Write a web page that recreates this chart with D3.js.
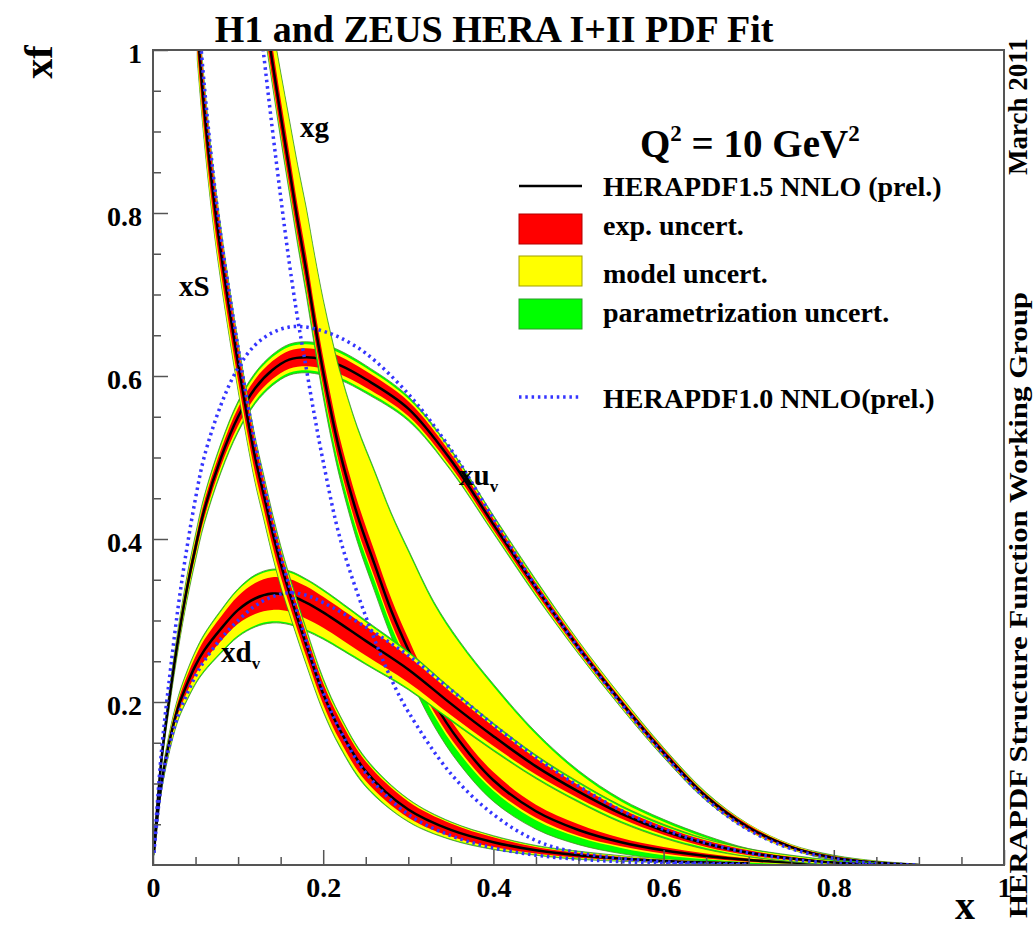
<!DOCTYPE html>
<html>
<head>
<meta charset="utf-8">
<script src="https://cdn.jsdelivr.net/npm/d3@7"></script>
<style>
body { margin: 0; background: #fff; }
text { font-family: "Liberation Serif", "Times New Roman", serif; font-weight: bold; fill: #000; }
</style>
</head>
<body>
<div id="chart"></div>
<script>
// ---- data (HERAPDF1.5 central + band offsets, HERAPDF1.0 dotted) ----
var xTicks = [0, 0.2, 0.4, 0.6, 0.8, 1];
var yTicks = [0.2, 0.4, 0.6, 0.8, 1];

// xu_v
var xuvX    = [0.001, 0.01, 0.02, 0.03, 0.04, 0.05, 0.06, 0.08, 0.1, 0.12, 0.14, 0.16, 0.18, 0.2, 0.22, 0.25, 0.3, 0.35, 0.4, 0.45, 0.5, 0.55, 0.6, 0.65, 0.7, 0.75, 0.8, 0.85, 0.9];
var xuv     = [0.015, 0.13, 0.21, 0.28, 0.34, 0.39, 0.435, 0.50, 0.55, 0.585, 0.607, 0.62, 0.623, 0.62, 0.613, 0.596, 0.56, 0.497, 0.418, 0.34, 0.267, 0.20, 0.138, 0.084, 0.046, 0.022, 0.009, 0.003, 0.0];
var xuvExp  = [0.001, 0.004, 0.006, 0.007, 0.008, 0.009, 0.01, 0.01, 0.011, 0.011, 0.011, 0.011, 0.011, 0.011, 0.011, 0.01, 0.009, 0.008, 0.007, 0.006, 0.005, 0.004, 0.004, 0.003, 0.003, 0.002, 0.002, 0.001, 0.001];
var xuvMod  = [0.002, 0.006, 0.009, 0.011, 0.012, 0.013, 0.014, 0.015, 0.016, 0.016, 0.016, 0.016, 0.016, 0.016, 0.015, 0.014, 0.012, 0.011, 0.009, 0.008, 0.007, 0.006, 0.005, 0.004, 0.004, 0.003, 0.002, 0.002, 0.001];
var xuvPar  = [0.003, 0.008, 0.011, 0.013, 0.015, 0.016, 0.017, 0.018, 0.019, 0.019, 0.019, 0.019, 0.019, 0.019, 0.018, 0.017, 0.015, 0.013, 0.011, 0.010, 0.008, 0.007, 0.006, 0.005, 0.004, 0.003, 0.003, 0.002, 0.001];
var xuvOld  = [0.015, 0.14, 0.235, 0.32, 0.39, 0.45, 0.50, 0.565, 0.61, 0.638, 0.653, 0.66, 0.66, 0.655, 0.647, 0.628, 0.578, 0.51, 0.425, 0.342, 0.266, 0.198, 0.136, 0.081, 0.043, 0.02, 0.008, 0.002, 0.0];

// xd_v
var xdvX     = [0.001, 0.01, 0.02, 0.03, 0.04, 0.05, 0.06, 0.08, 0.1, 0.12, 0.14, 0.16, 0.18, 0.2, 0.25, 0.3, 0.35, 0.4, 0.45, 0.5, 0.55, 0.6, 0.65, 0.7, 0.75, 0.8, 0.85];
var xdv      = [0.015, 0.10, 0.155, 0.195, 0.222, 0.245, 0.263, 0.29, 0.313, 0.327, 0.333, 0.331, 0.322, 0.31, 0.275, 0.24, 0.198, 0.158, 0.121, 0.09, 0.063, 0.042, 0.026, 0.015, 0.008, 0.003, 0.001];
var xdvExp   = [0.001, 0.004, 0.006, 0.008, 0.01, 0.011, 0.013, 0.015, 0.017, 0.019, 0.02, 0.02, 0.02, 0.019, 0.018, 0.016, 0.014, 0.012, 0.01, 0.008, 0.006, 0.005, 0.004, 0.003, 0.002, 0.001, 0.001];
var xdvModUp = [0.002, 0.006, 0.009, 0.011, 0.014, 0.016, 0.018, 0.021, 0.024, 0.027, 0.028, 0.028, 0.027, 0.026, 0.023, 0.02, 0.017, 0.014, 0.012, 0.01, 0.008, 0.006, 0.005, 0.004, 0.003, 0.002, 0.001];
var xdvModDn = [0.002, 0.007, 0.011, 0.014, 0.018, 0.021, 0.024, 0.028, 0.031, 0.033, 0.034, 0.034, 0.033, 0.031, 0.027, 0.023, 0.019, 0.016, 0.013, 0.011, 0.009, 0.007, 0.005, 0.004, 0.003, 0.002, 0.001];
var xdvParUp = [0.003, 0.008, 0.011, 0.013, 0.016, 0.018, 0.02, 0.023, 0.026, 0.029, 0.03, 0.03, 0.029, 0.028, 0.025, 0.022, 0.019, 0.016, 0.014, 0.012, 0.01, 0.008, 0.006, 0.005, 0.004, 0.003, 0.002];
var xdvParDn = [0.003, 0.009, 0.013, 0.016, 0.02, 0.023, 0.026, 0.03, 0.033, 0.035, 0.036, 0.036, 0.035, 0.033, 0.029, 0.025, 0.021, 0.018, 0.015, 0.013, 0.011, 0.009, 0.007, 0.005, 0.004, 0.003, 0.002];
var xdvOld   = [0.015, 0.10, 0.15, 0.185, 0.21, 0.232, 0.25, 0.278, 0.30, 0.318, 0.329, 0.334, 0.331, 0.322, 0.292, 0.257, 0.215, 0.172, 0.132, 0.097, 0.067, 0.044, 0.027, 0.015, 0.007, 0.002, 0.0];

// xS
var xsX     = [0.052, 0.06, 0.07, 0.08, 0.09, 0.1, 0.11, 0.12, 0.13, 0.14, 0.15, 0.16, 0.18, 0.2, 0.22, 0.25, 0.3, 0.35, 0.4, 0.45, 0.5, 0.6, 0.7];
var xs      = [1.03, 0.93, 0.83, 0.75, 0.68, 0.615, 0.555, 0.50, 0.455, 0.41, 0.37, 0.335, 0.27, 0.21, 0.165, 0.115, 0.068, 0.043, 0.028, 0.018, 0.012, 0.005, 0.002];
var xsExp   = [0.03, 0.028, 0.026, 0.024, 0.022, 0.021, 0.02, 0.019, 0.018, 0.017, 0.016, 0.015, 0.014, 0.013, 0.013, 0.012, 0.01, 0.008, 0.006, 0.004, 0.003, 0.001, 0.001];
var xsModUp = [0.033, 0.031, 0.029, 0.027, 0.025, 0.024, 0.023, 0.022, 0.021, 0.02, 0.019, 0.018, 0.017, 0.016, 0.016, 0.014, 0.012, 0.009, 0.007, 0.005, 0.004, 0.002, 0.001];
var xsModDn = [0.04, 0.038, 0.036, 0.034, 0.032, 0.031, 0.03, 0.029, 0.028, 0.027, 0.026, 0.024, 0.022, 0.02, 0.019, 0.017, 0.014, 0.011, 0.008, 0.005, 0.004, 0.002, 0.001];
var xsParUp = [0.036, 0.034, 0.032, 0.03, 0.028, 0.027, 0.026, 0.025, 0.024, 0.023, 0.022, 0.021, 0.02, 0.019, 0.018, 0.016, 0.013, 0.01, 0.008, 0.006, 0.005, 0.002, 0.001];
var xsParDn = [0.042, 0.04, 0.038, 0.036, 0.034, 0.033, 0.032, 0.031, 0.03, 0.029, 0.028, 0.026, 0.024, 0.022, 0.021, 0.019, 0.015, 0.012, 0.009, 0.006, 0.005, 0.002, 0.001];
var xsOld   = [1.06, 0.96, 0.855, 0.77, 0.70, 0.635, 0.573, 0.517, 0.468, 0.422, 0.38, 0.343, 0.275, 0.212, 0.165, 0.113, 0.062, 0.036, 0.021, 0.012, 0.007, 0.002, 0.0];

// xg
var xgX     = [0.13, 0.14, 0.15, 0.16, 0.17, 0.18, 0.19, 0.2, 0.21, 0.22, 0.24, 0.26, 0.28, 0.3, 0.33, 0.36, 0.4, 0.45, 0.5, 0.55, 0.6, 0.65, 0.7, 0.75, 0.8];
var xg      = [1.055, 0.987, 0.92, 0.855, 0.79, 0.73, 0.665, 0.605, 0.552, 0.505, 0.43, 0.37, 0.312, 0.264, 0.2, 0.152, 0.104, 0.066, 0.043, 0.028, 0.018, 0.011, 0.006, 0.003, 0.001];
var xgExp   = [0.02, 0.02, 0.02, 0.02, 0.019, 0.019, 0.018, 0.018, 0.018, 0.017, 0.017, 0.016, 0.015, 0.014, 0.012, 0.011, 0.01, 0.008, 0.007, 0.005, 0.004, 0.003, 0.002, 0.001, 0.001];
var xgModUp = [0.035, 0.042, 0.05, 0.058, 0.066, 0.074, 0.08, 0.086, 0.092, 0.097, 0.105, 0.112, 0.117, 0.12, 0.12, 0.12, 0.115, 0.094, 0.07, 0.05, 0.035, 0.022, 0.012, 0.006, 0.003];
var xgModDn = [0.024, 0.024, 0.024, 0.024, 0.023, 0.023, 0.022, 0.022, 0.022, 0.021, 0.021, 0.02, 0.019, 0.018, 0.016, 0.015, 0.013, 0.011, 0.009, 0.007, 0.006, 0.004, 0.003, 0.002, 0.001];
var xgParUp = [0.038, 0.045, 0.053, 0.061, 0.069, 0.077, 0.083, 0.089, 0.095, 0.1, 0.108, 0.115, 0.12, 0.123, 0.123, 0.123, 0.118, 0.097, 0.073, 0.053, 0.038, 0.025, 0.014, 0.008, 0.004];
var xgParDn = [0.028, 0.028, 0.029, 0.029, 0.029, 0.03, 0.03, 0.031, 0.032, 0.032, 0.033, 0.033, 0.032, 0.031, 0.029, 0.028, 0.026, 0.022, 0.018, 0.014, 0.011, 0.008, 0.005, 0.003, 0.002];
var xgOldX  = [0.125, 0.13, 0.14, 0.15, 0.16, 0.17, 0.18, 0.19, 0.2, 0.22, 0.25, 0.28, 0.3, 0.35, 0.4, 0.45, 0.5, 0.6, 0.7];
var xgOld   = [1.04, 0.995, 0.905, 0.82, 0.74, 0.67, 0.61, 0.55, 0.495, 0.40, 0.305, 0.228, 0.188, 0.112, 0.062, 0.03, 0.015, 0.004, 0.001];

var legendLabels = ["HERAPDF1.5 NNLO (prel.)", "exp. uncert.", "model uncert.", "parametrization uncert.", "HERAPDF1.0 NNLO(prel.)"];

// ---- layout ----
var width = 1034, height = 929;
var svg = d3.select("#chart").append("svg")
  .attr("width", width)
  .attr("height", height);

var x = d3.scaleLinear().domain([0, 1]).range([153, 1004]);
var y = d3.scaleLinear().domain([0, 1]).range([865, 50]);

svg.append("clipPath").attr("id", "plot")
  .append("rect")
  .attr("x", x(0)).attr("y", y(1))
  .attr("width", x(1) - x(0)).attr("height", y(0) - y(1));

function pts(xs_, c, up, dn) {
  return xs_.map(function(v, i) {
    return { x: v, hi: c[i] + up[i], lo: c[i] - dn[i] };
  });
}

var curve = d3.curveCatmullRom.alpha(0.5);

var area = d3.area()
  .x(function(d) { return x(d.x); })
  .y0(function(d) { return y(d.lo); })
  .y1(function(d) { return y(d.hi); })
  .curve(curve);

var line = d3.line()
  .x(function(d) { return x(d[0]); })
  .y(function(d) { return y(d[1]); })
  .curve(curve);

// drawing order as in the picture: xg over xu_v, xd_v over xg, xS on top
var pdfs = [
  { x: xuvX, c: xuv, exp: xuvExp, mUp: xuvMod, mDn: xuvMod, pUp: xuvPar, pDn: xuvPar },
  { x: xgX, c: xg, exp: xgExp, mUp: xgModUp, mDn: xgModDn, pUp: xgParUp, pDn: xgParDn },
  { x: xdvX, c: xdv, exp: xdvExp, mUp: xdvModUp, mDn: xdvModDn, pUp: xdvParUp, pDn: xdvParDn },
  { x: xsX, c: xs, exp: xsExp, mUp: xsModUp, mDn: xsModDn, pUp: xsParUp, pDn: xsParDn }
];

var olds = [
  { x: xuvX, v: xuvOld },
  { x: xdvX, v: xdvOld },
  { x: xsX, v: xsOld },
  { x: xgOldX, v: xgOld }
];

var plot = svg.append("g").attr("clip-path", "url(#plot)");

pdfs.forEach(function(p) {
  var g = plot.append("g");
  g.append("path").attr("d", area(pts(p.x, p.c, p.pUp, p.pDn)))
    .attr("fill", "#00ff00").attr("stroke", "#4f8a2a").attr("stroke-width", 0.8);
  g.append("path").attr("d", area(pts(p.x, p.c, p.mUp, p.mDn)))
    .attr("fill", "#ffff00");
  g.append("path").attr("d", area(pts(p.x, p.c, p.exp, p.exp)))
    .attr("fill", "#ff0000");
  g.append("path").attr("d", line(d3.zip(p.x, p.c)))
    .attr("fill", "none").attr("stroke", "#000").attr("stroke-width", 2.5);
});

olds.forEach(function(o) {
  plot.append("path").attr("d", line(d3.zip(o.x, o.v)))
    .attr("fill", "none").attr("stroke", "#3535ff")
    .attr("stroke-width", 3.5).attr("stroke-dasharray", "2.5,3.8");
});

// ---- axes ----
var minor = d3.range(0.05, 1, 0.05).filter(function(v) { return Math.abs(v * 5 - Math.round(v * 5)) > 1e-6; });

function fmt(d) { return (d === 0 || d === 1) ? String(d) : d3.format(".1f")(d); }

var gx = svg.append("g").attr("transform", "translate(0," + y(0) + ")")
  .call(d3.axisBottom(x).tickValues(xTicks).tickSize(-15).tickSizeOuter(0).tickPadding(12).tickFormat(fmt));
var gxm = svg.append("g").attr("transform", "translate(0," + y(0) + ")")
  .call(d3.axisBottom(x).tickValues(minor).tickSize(-8).tickSizeOuter(0).tickFormat(""));
var gy = svg.append("g").attr("transform", "translate(" + x(0) + ",0)")
  .call(d3.axisLeft(y).tickValues(yTicks).tickSize(-15).tickSizeOuter(0).tickPadding(11).tickFormat(fmt));
var gym = svg.append("g").attr("transform", "translate(" + x(0) + ",0)")
  .call(d3.axisLeft(y).tickValues(minor).tickSize(-8).tickSizeOuter(0).tickFormat(""));

[gx, gxm, gy, gym].forEach(function(g) {
  g.select(".domain").remove();
  g.selectAll(".tick line").attr("stroke", "#555").attr("stroke-width", 1.5);
  g.attr("font-size", 28).attr("font-family", null);
});
gy.selectAll(".tick text").attr("dy", "0.45em");

svg.append("rect")
  .attr("x", x(0)).attr("y", y(1))
  .attr("width", x(1) - x(0)).attr("height", y(0) - y(1))
  .attr("fill", "none").attr("stroke", "#555").attr("stroke-width", 2);

// ---- texts ----
svg.append("text").attr("x", 494).attr("y", 42).attr("text-anchor", "middle")
  .attr("font-size", 38).text("H1 and ZEUS HERA I+II PDF Fit");

var q = svg.append("text").attr("x", 640).attr("y", 157).attr("font-size", 39);
q.append("tspan").text("Q");
q.append("tspan").attr("dy", -16).attr("font-size", 23).text("2");
q.append("tspan").attr("dy", 16).text(" = 10 GeV");
q.append("tspan").attr("dy", -16).attr("font-size", 23).text("2");

svg.append("text").attr("transform", "translate(52,62) rotate(-90)")
  .attr("text-anchor", "middle").attr("font-size", 40).text("xf");
svg.append("text").attr("x", 965).attr("y", 919)
  .attr("text-anchor", "middle").attr("font-size", 40).text("x");

svg.append("text").attr("transform", "translate(1027,175) rotate(-90)")
  .attr("font-size", 27).text("March 2011");
svg.append("text").attr("transform", "translate(1027,918) rotate(-90)")
  .attr("font-size", 26).attr("textLength", 626).attr("lengthAdjust", "spacingAndGlyphs")
  .text("HERAPDF Structure Function Working Group");

function partonLabel(px, py, base, sub) {
  var t = svg.append("text").attr("x", px).attr("y", py).attr("font-size", 29);
  t.append("tspan").text(base);
  if (sub) t.append("tspan").attr("dy", 7).attr("font-size", 17).text(sub);
}
partonLabel(300, 137, "xg");
partonLabel(179, 296, "xS");
partonLabel(459, 485, "xu", "v");
partonLabel(221, 662, "xd", "v");

// ---- legend ----
var lg = svg.append("g");
lg.append("line").attr("x1", 519).attr("x2", 582).attr("y1", 186).attr("y2", 186)
  .attr("stroke", "#000").attr("stroke-width", 2.5);
var boxes = [["#ff0000", "#b00000", 214], ["#ffff00", "#a0a000", 256], ["#00ff00", "#2a9a2a", 299]];
boxes.forEach(function(b) {
  lg.append("rect").attr("x", 519).attr("y", b[2]).attr("width", 63).attr("height", 30)
    .attr("fill", b[0]).attr("stroke", b[1]).attr("stroke-width", 1);
});
lg.append("line").attr("x1", 519).attr("x2", 582).attr("y1", 397).attr("y2", 397)
  .attr("stroke", "#3535ff").attr("stroke-width", 3.5).attr("stroke-dasharray", "2.5,3.8");
var baselines = [196, 235, 283, 322, 408];
legendLabels.forEach(function(s, i) {
  lg.append("text").attr("x", 603).attr("y", baselines[i]).attr("font-size", 28).text(s);
});
</script>
</body>
</html>
